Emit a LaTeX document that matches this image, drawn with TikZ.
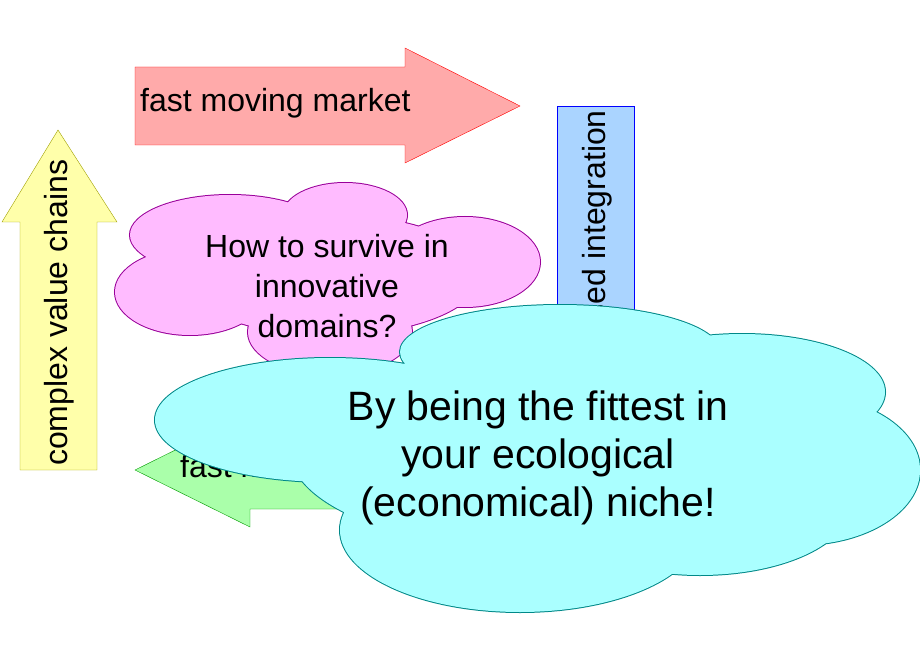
\documentclass[tikz,border=0pt]{standalone}
\usepackage{fontspec}
\setmainfont{Liberation Sans}
\definecolor{redf}{HTML}{FFAAAA}
\definecolor{yelf}{HTML}{FFFFAA}
\definecolor{yeld}{HTML}{A0A000}
\definecolor{bluef}{HTML}{AAD4FF}
\definecolor{greenf}{HTML}{AAFFAA}
\definecolor{pinkf}{HTML}{FFBBFF}
\definecolor{pinkd}{HTML}{990099}
\definecolor{cyanf}{HTML}{AAFFFF}
\definecolor{cyand}{HTML}{008888}
\begin{document}
\begin{tikzpicture}[x=1pt,y=-1pt,
  lbl/.style={font=\fontsize{32}{39}\selectfont, align=center, inner sep=0}]
\useasboundingbox (0,0) rectangle (920,660);
% blue bar
\draw[blue, fill=bluef] (557,106) rectangle (634,480);
\node[lbl, rotate=90, anchor=east] (bt) at (597,110) {model based integration};
% red arrow
\draw[red, fill=redf] (135,67) -- (405,67) -- (405,48) -- (520,106) -- (405,163) -- (405,145) -- (135,145) -- cycle;
\node[lbl, anchor=west] (rt) at (140,103) {fast moving market};
% yellow arrow
\draw[yeld, fill=yelf] (20,470) -- (20,222) -- (2,222) -- (58,130) -- (117,222) -- (97,222) -- (97,470) -- cycle;
\node[lbl, rotate=90, anchor=west] (yt) at (59,466) {complex value chains};
% green arrow
\draw[green!60!black, fill=greenf] (135,470) -- (250,413) -- (250,432) -- (520,432) -- (520,509) -- (250,509) -- (250,527) -- cycle;
\node[lbl, anchor=west] (gt) at (180,469) {fast moving};
% pink cloud
\begin{scope}
\def\pink{(230,235) ellipse (100 and 40) (345,215) ellipse (62 and 32) (465,262) ellipse (75 and 45) (190,292) ellipse (75 and 43) (330,332) ellipse (82 and 43) (330,275) ellipse (150 and 60)}
\draw[pinkd, line width=2] \pink;
\fill[pinkf] \pink;
\end{scope}
\node[lbl, font=\fontsize{32}{40}\selectfont] (pt) at (327,286) {How to survive in\\innovative\\domains?};
% cyan cloud
\begin{scope}
\def\cyan{(560,352) ellipse (160 and 47) (742,392) ellipse (143 and 58) (800,470) ellipse (120 and 75) (330,420) ellipse (175 and 62) (520,530) ellipse (180 and 82) (700,505) ellipse (150 and 70) (540,450) ellipse (250 and 100)}
\draw[cyand, line width=2] \cyan;
\fill[cyanf] \cyan;
\end{scope}
\node[font=\fontsize{41}{48}\selectfont, align=center, inner sep=0] (ct) at (538,458) {By being the fittest in\\your ecological\\(economical) niche!};
\end{tikzpicture}
\end{document}
